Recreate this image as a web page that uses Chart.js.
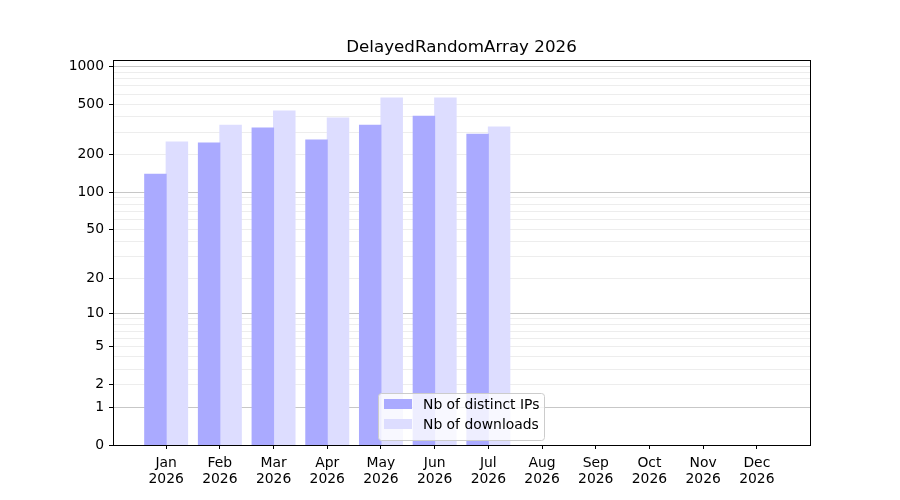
<!DOCTYPE html>
<html>
<head>
<meta charset="utf-8">
<script src="https://cdn.jsdelivr.net/npm/chart.js@4/dist/chart.umd.min.js"></script>
<style>
  html, body { margin: 0; padding: 0; background: #fff; }
  #wrap { width: 900px; height: 500px; }
</style>
</head>
<body>
<div id="wrap"><canvas id="chart" width="900" height="500"></canvas></div>
<script>
// Chart data
const chartTitle = 'DelayedRandomArray 2026';
const months = ['Jan', 'Feb', 'Mar', 'Apr', 'May', 'Jun', 'Jul', 'Aug', 'Sep', 'Oct', 'Nov', 'Dec'];
const yearLabel = '2026';
const distinctIps = [139, 246, 324, 260, 342, 403, 290, 0, 0, 0, 0, 0];
const downloads = [251, 342, 442, 389, 561, 561, 330, 0, 0, 0, 0, 0];
const seriesLabels = ['Nb of distinct IPs', 'Nb of downloads'];
const yTickLabels = [0, 1, 2, 5, 10, 20, 50, 100, 200, 500, 1000];
const yMajorLines = [1, 10, 100, 1000];
const yGridValues = [0, 1, 2, 3, 4, 5, 6, 7, 8, 9, 10, 20, 30, 40, 50, 60, 70, 80, 90,
                     100, 200, 300, 400, 500, 600, 700, 800, 900, 1000];

// y axis drawn on log10(1 + value)
class Log1pScale extends Chart.LinearScale {
    static id = 'log1p';
    static defaults = {};

    buildTicks() {
        return yGridValues.map(v => ({ value: v }));
    }

    configure() {
        super.configure();
        this._startValue = Math.log10(1 + this.min);
        this._valueRange = Math.log10(1 + this.max) - this._startValue;
    }

    getPixelForValue(value) {
        const d = (Math.log10(1 + value) - this._startValue) / this._valueRange;
        return this.getPixelForDecimal(d);
    }

    getValueForPixel(pixel) {
        const d = this.getDecimalForPixel(pixel);
        return Math.pow(10, this._startValue + d * this._valueRange) - 1;
    }
}
Chart.register(Log1pScale);

Chart.defaults.font.family = 'DejaVu Sans';
Chart.defaults.font.size = 13.9;
Chart.defaults.color = '#000';

// Frame around the plot and the legend inside it
const framePlugin = {
    id: 'frame',
    afterDraw(chart) {
        const { ctx, chartArea: a } = chart;
        ctx.save();
        ctx.strokeStyle = '#000';
        ctx.lineWidth = 1;
        ctx.strokeRect(Math.round(a.left) + 0.5, Math.round(a.top) + 0.5,
                       Math.round(a.right - a.left), Math.round(a.bottom - a.top));

        // legend box
        const x = 378, y = 393, w = 166, h = 47;
        ctx.beginPath();
        ctx.roundRect(x + 0.5, y + 0.5, w, h, 3);
        ctx.fillStyle = 'rgba(255,255,255,0.8)';
        ctx.fill();
        ctx.strokeStyle = '#cccccc';
        ctx.stroke();
        ctx.font = '13.9px "DejaVu Sans"';
        ctx.textBaseline = 'middle';
        ctx.textAlign = 'left';
        chart.data.datasets.forEach((ds, i) => {
            const rowY = 404 + i * 20;
            ctx.fillStyle = ds.backgroundColor;
            ctx.fillRect(384, rowY - 5, 28, 10);
            ctx.fillStyle = '#000';
            ctx.fillText(ds.label, 423, rowY + 1);
        });
        ctx.restore();
    }
};

// close the antialiasing seam between neighbouring bars, skip empty months
const inflate = ctx => (ctx.raw && ctx.raw.y > 0 ? 0.5 : 0);

new Chart(document.getElementById('chart'), {
    type: 'bar',
    data: {
        datasets: [
            {
                label: seriesLabels[0],
                data: distinctIps.map((v, i) => ({ x: i, y: v })),
                backgroundColor: '#aaaaff',
                borderWidth: 0,
                inflateAmount: inflate
            },
            {
                label: seriesLabels[1],
                data: downloads.map((v, i) => ({ x: i, y: v })),
                backgroundColor: '#ddddff',
                borderWidth: 0,
                inflateAmount: inflate
            }
        ]
    },
    options: {
        responsive: false,
        animation: false,
        layout: { padding: { left: 63, right: 40, top: 0, bottom: 0 } },
        datasets: {
            bar: { categoryPercentage: 0.8, barPercentage: 1.0 }
        },
        plugins: {
            legend: { display: false },
            tooltip: { enabled: false },
            title: {
                display: true,
                text: chartTitle,
                color: '#000',
                font: { size: 16.7, weight: 'normal' },
                padding: { top: 38, bottom: 2 }
            }
        },
        scales: {
            x: {
                type: 'linear',
                min: -0.99,
                max: 11.99,
                offset: false,
                afterBuildTicks: scale => {
                    scale.ticks = months.map((m, i) => ({ value: i }));
                },
                afterFit: scale => { scale.height = 55; },
                ticks: {
                    autoSkip: false,
                    maxRotation: 0,
                    padding: 7,
                    font: { lineHeight: 1.1 },
                    callback: value => [months[value], yearLabel]
                },
                grid: {
                    offset: false,
                    drawOnChartArea: false,
                    drawTicks: true,
                    tickLength: 4,
                    tickColor: '#000'
                },
                border: { display: true, color: '#000' }
            },
            y: {
                type: 'log1p',
                min: 0,
                max: 1124,
                z: 1,
                afterFit: scale => { scale.width = 50; },
                ticks: {
                    autoSkip: false,
                    padding: 5,
                    callback: value => yTickLabels.includes(value) ? String(value) : ''
                },
                grid: {
                    drawTicks: true,
                    tickLength: 4,
                    color: ctx => {
                        const v = ctx.tick ? ctx.tick.value : 0;
                        if (v === 0) return 'rgba(0,0,0,0)';
                        return yMajorLines.includes(v) ? 'rgba(0,0,0,0.22)' : 'rgba(0,0,0,0.07)';
                    },
                    tickColor: ctx => {
                        const v = ctx.tick ? ctx.tick.value : -1;
                        return yTickLabels.includes(v) ? '#000' : 'rgba(0,0,0,0)';
                    }
                },
                border: { display: true, color: '#000' }
            },
            // empty right-hand spacer so the title centres over the plot
            yRight: {
                type: 'linear',
                position: 'right',
                display: true,
                afterFit: scale => { scale.width = 50; },
                ticks: { display: false },
                grid: { display: false, drawTicks: false },
                border: { display: false }
            }
        }
    },
    plugins: [framePlugin]
});
</script>
</body>
</html>
